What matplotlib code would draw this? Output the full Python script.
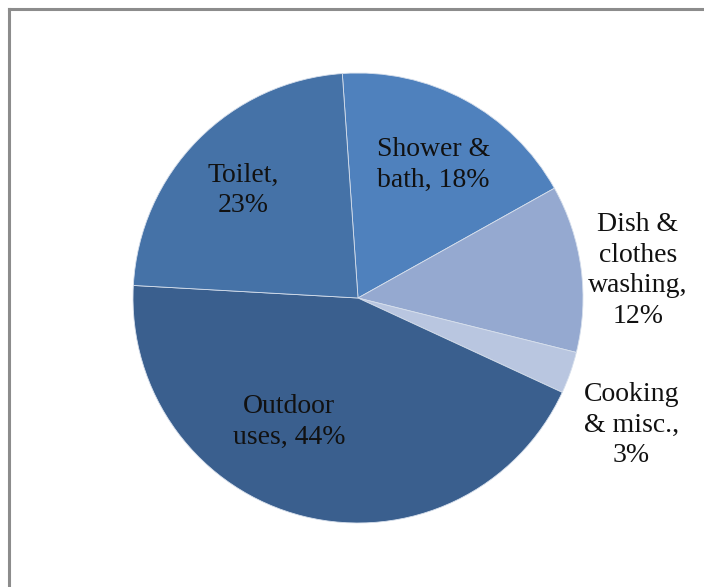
import numpy as np
import matplotlib
matplotlib.use("Agg")
from matplotlib import pyplot as plt

# data
labels = ["Shower &\nbath, 18%", "Dish &\nclothes\nwashing,\n12%", "Cooking\n& misc.,\n3%",
          "Outdoor\nuses, 44%", "Toilet,\n23%"]
shares = [18, 12, 3, 44, 23]
colors = ["#4F81BD", "#95A9D0", "#B9C6E0", "#3A5F8E", "#4572A7"]

# where each label sits: radial distance (in radii) and angle shift (deg)
label_dist = [0.68, 1.25, 1.34, 0.63, 0.70]
label_shift = [-1, -2, -5.5, -15, 1.5]

W, H = 704, 587
fig = plt.figure(figsize=(W / 100, H / 100), dpi=100)

# grey frame, only top & left edges are visible in the reference
fig.add_artist(plt.Line2D([8.5 / W, 8.5 / W], [0, 1 - 8.5 / H], color="#8c8c8c", lw=2.2))
fig.add_artist(plt.Line2D([8.5 / W, 1], [1 - 8.5 / H, 1 - 8.5 / H], color="#8c8c8c", lw=2.2))

cx, cy, r = 358, 298, 225
ax = fig.add_axes([(cx - r) / W, (H - cy - r) / H, 2 * r / W, 2 * r / H])
wedges, _ = ax.pie(shares, colors=colors, startangle=94, counterclock=False,
                   wedgeprops=dict(edgecolor="#d6dfec", linewidth=0.6))
ax.set_xlim(-1, 1)
ax.set_ylim(-1, 1)
ax.set_aspect("equal")
ax.axis("off")

for w, lab, d, s in zip(wedges, labels, label_dist, label_shift):
    ang = np.deg2rad((w.theta1 + w.theta2) / 2 + s)
    ax.text(d * np.cos(ang), d * np.sin(ang), lab, ha="center", va="center",
            fontsize=20, family="Liberation Serif", color="#111111",
            linespacing=1.3, clip_on=False)

fig.savefig("out.png", dpi=100)
